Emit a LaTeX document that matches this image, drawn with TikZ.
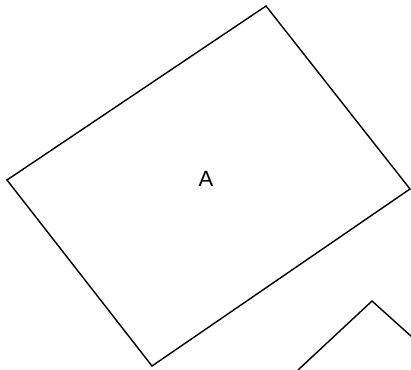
\documentclass[tikz,border=0pt]{standalone}
\usepackage{fontspec}
\setmainfont{Liberation Sans}
\begin{document}
\begin{tikzpicture}[x=1pt,y=-1pt,
  shapeline/.style={draw=black, line width=1.4pt, line join=miter},
  lbl/.style={font=\fontsize{22}{26}\selectfont, inner sep=0pt}]
\useasboundingbox (0,0) rectangle (411,369);
\coordinate (t) at (266,6);
\coordinate (r) at (410,189);
\coordinate (b) at (152,366);
\coordinate (l) at (7,180);
\draw[shapeline] (t) -- (r) -- (b) -- (l) -- cycle;
\node[lbl] (A) at (206,179) {A};
\coordinate (p) at (372,301);
\coordinate (pl) at (298,370);
\coordinate (pr) at (412,337);
\draw[shapeline] (pl) -- (p) -- (pr);
\end{tikzpicture}
\end{document}
